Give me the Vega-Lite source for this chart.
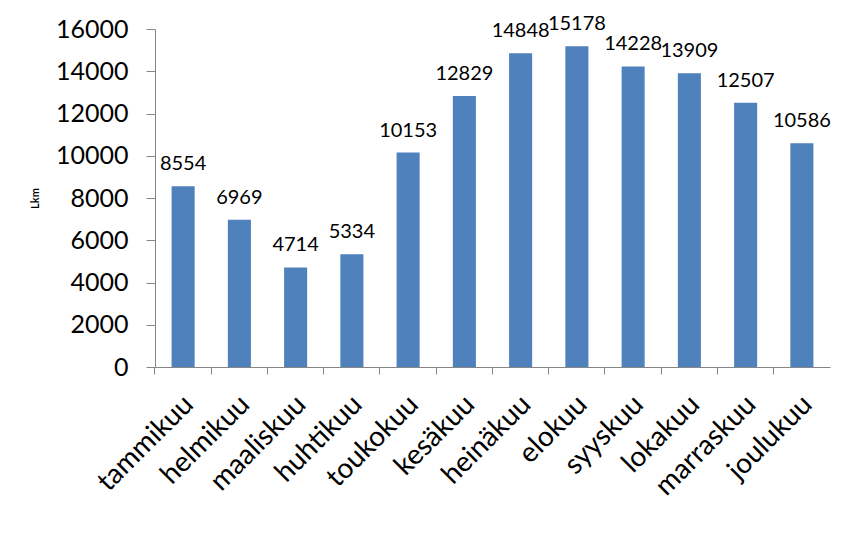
{
  "$schema": "https://vega.github.io/schema/vega-lite/v6.json",
  "width": 675,
  "height": 338,
  "autosize": "none",
  "padding": {"left": 155, "top": 29, "right": 25, "bottom": 186},
  "background": "white",
  "config": {"view": {"stroke": null}, "font": "Lato"},
  "data": {"values": [
    {"month": "tammikuu", "lkm": 8554},
    {"month": "helmikuu", "lkm": 6969},
    {"month": "maaliskuu", "lkm": 4714},
    {"month": "huhtikuu", "lkm": 5334},
    {"month": "toukokuu", "lkm": 10153},
    {"month": "kesäkuu", "lkm": 12829},
    {"month": "heinäkuu", "lkm": 14848},
    {"month": "elokuu", "lkm": 15178},
    {"month": "syyskuu", "lkm": 14228},
    {"month": "lokakuu", "lkm": 13909},
    {"month": "marraskuu", "lkm": 12507},
    {"month": "joulukuu", "lkm": 10586}
  ]},
  "encoding": {
    "x": {
      "field": "month", "type": "nominal", "sort": null,
      "scale": {"paddingInner": 0.59, "paddingOuter": 0.295},
      "axis": {
        "title": null, "labelAngle": -45, "labelFontSize": 28, "labelFont": "Lato",
        "labelColor": "black", "labelAlign": "right", "labelBaseline": "middle",
        "labelPadding": 26, "labelOffset": 6, "domainColor": "#868686", "tickColor": "#868686",
        "tickSize": 7, "bandPosition": -0.72
      }
    },
    "y": {
      "field": "lkm", "type": "quantitative",
      "scale": {"domain": [0, 16000], "nice": false},
      "axis": {
        "values": [0, 2000, 4000, 6000, 8000, 10000, 12000, 14000, 16000],
        "format": "d", "grid": false, "title": "Lkm", "titleFontSize": 11,
        "titleFont": "Lato", "titleFontWeight": "bold", "titleColor": "black",
        "titlePadding": 15, "labelFontSize": 25, "labelFont": "Lato",
        "labelColor": "black", "labelPadding": 18, "domainColor": "#868686",
        "tickColor": "#868686", "tickSize": 9
      }
    }
  },
  "layer": [
    {"mark": {"type": "bar", "color": "#4F81BD"}},
    {
      "mark": {"type": "text", "dy": -16, "baseline": "alphabetic", "fontSize": 20, "font": "Lato", "color": "black"},
      "encoding": {"text": {"field": "lkm", "type": "quantitative", "format": "d"}}
    }
  ]
}
